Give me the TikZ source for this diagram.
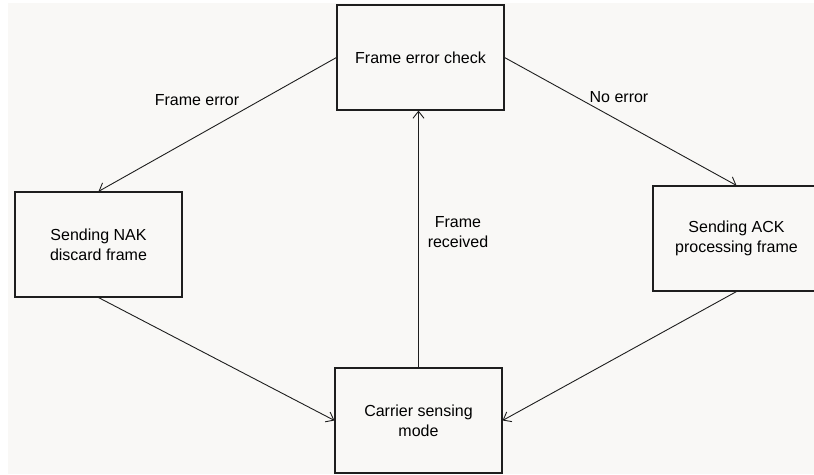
\documentclass[tikz,border=0pt]{standalone}
\usepackage{fontspec}
\setmainfont{Liberation Sans}
\usetikzlibrary{arrows.meta}
\definecolor{bgcol}{RGB}{249,248,246}
\definecolor{linecol}{RGB}{30,30,30}
\begin{document}
\begin{tikzpicture}[x=1pt,y=-1pt,
  statebox/.style={draw=linecol, line width=1.1pt, fill=bgcol, minimum width=167pt, minimum height=105pt,
    inner sep=0pt, align=center, font=\fontsize{16}{20}\selectfont},
  lbl/.style={inner sep=0pt, align=center, font=\fontsize{16}{20}\selectfont},
  conn/.style={draw=linecol, line width=0.9pt, -{Straight Barb[length=7pt,width=11pt]}}]
\useasboundingbox (0,0) rectangle (814,474);
\clip (0,0) rectangle (814,474);
\fill[bgcol] (8,3) rectangle (814,474);
\node[statebox] (top) at (420.5,57.5) {Frame error check};
\node[statebox] (left) at (98.5,244.5) {Sending NAK\\discard frame};
\node[statebox] (right) at (736.5,238.5) {Sending ACK\\processing frame};
\node[statebox] (bottom) at (418.5,420.5) {Carrier sensing\\mode};
\draw[conn] (top.west) -- (left.north);
\draw[conn] (top.east) -- (right.north);
\draw[conn] (left.south) -- (bottom.west);
\draw[conn] (right.south) -- (bottom.east);
\draw[conn] (bottom.north) -- (bottom.north |- top.south);
\node[lbl] (l1) at (197,100) {Frame error};
\node[lbl] (l2) at (619,97) {No error};
\node[lbl] (l3) at (458,232) {Frame\\received};
\end{tikzpicture}
\end{document}
